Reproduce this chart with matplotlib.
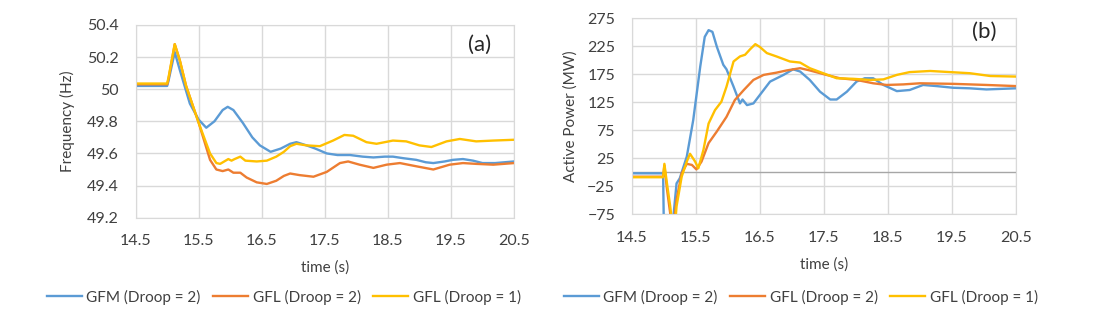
import matplotlib.pyplot as plt
from matplotlib import rcParams

rcParams['font.family'] = ['Lato', 'DejaVu Sans']
rcParams['font.size'] = 11

BLUE = '#5B9BD5'
ORANGE = '#ED7D31'
YELLOW = '#FFC000'
GRID = '#D9D9D9'

labels = ['GFM (Droop = 2)', 'GFL (Droop = 2)', 'GFL (Droop = 1)']

# (a) frequency, Hz
fa_gfm_t = [14.5, 15.0, 15.02, 15.12, 15.2, 15.36, 15.5, 15.62, 15.75, 15.88, 15.96, 16.05,
            16.2, 16.35, 16.47, 16.64, 16.8, 16.95, 17.05, 17.21, 17.35, 17.53, 17.7, 17.9,
            18.1, 18.27, 18.45, 18.58, 18.75, 18.95, 19.1, 19.22, 19.4, 19.53, 19.69, 19.85,
            20.0, 20.2, 20.5]
fa_gfm = [50.02, 50.02, 50.05, 50.23, 50.12, 49.91, 49.81, 49.76, 49.8, 49.87, 49.89, 49.87,
          49.79, 49.7, 49.65, 49.61, 49.63, 49.66, 49.67, 49.65, 49.63, 49.60, 49.59, 49.59,
          49.58, 49.575, 49.58, 49.58, 49.57, 49.56, 49.545, 49.54, 49.55, 49.56, 49.565, 49.555,
          49.54, 49.54, 49.55]

fa_gfl2_t = [14.5, 15.0, 15.02, 15.12, 15.2, 15.3, 15.5, 15.68, 15.78, 15.88, 15.97, 16.05,
             16.16, 16.26, 16.42, 16.58, 16.73, 16.85, 16.95, 17.1, 17.32, 17.53, 17.74, 17.87,
             18.05, 18.27, 18.48, 18.69, 18.95, 19.22, 19.48, 19.69, 19.9, 20.17, 20.5]
fa_gfl2 = [50.03, 50.03, 50.06, 50.28, 50.18, 50.02, 49.79, 49.56, 49.50, 49.49, 49.50, 49.48,
           49.48, 49.45, 49.42, 49.41, 49.43, 49.46, 49.475, 49.465, 49.455, 49.485, 49.54, 49.55,
           49.53, 49.51, 49.53, 49.54, 49.52, 49.50, 49.53, 49.54, 49.535, 49.53, 49.54]

fa_gfl1_t = [14.5, 15.0, 15.02, 15.12, 15.2, 15.3, 15.5, 15.68, 15.78, 15.84, 15.97, 16.02,
             16.07, 16.16, 16.24, 16.42, 16.58, 16.73, 16.85, 16.95, 17.05, 17.21, 17.42, 17.63,
             17.81, 17.95, 18.16, 18.32, 18.58, 18.79, 19.0, 19.19, 19.43, 19.64, 19.9, 20.17, 20.5]
fa_gfl1 = [50.035, 50.035, 50.07, 50.28, 50.18, 50.02, 49.79, 49.60, 49.54, 49.535, 49.565, 49.555,
           49.565, 49.58, 49.555, 49.55, 49.555, 49.58, 49.61, 49.645, 49.66, 49.65, 49.645, 49.68,
           49.715, 49.71, 49.67, 49.66, 49.68, 49.675, 49.65, 49.64, 49.675, 49.69, 49.675, 49.68, 49.685]

# (b) active power, MW
pb_gfm_t = [14.5, 14.99, 15.01, 15.1, 15.15, 15.2, 15.25, 15.36, 15.46, 15.57, 15.64, 15.7,
            15.76, 15.83, 15.93, 15.98, 16.09, 16.19, 16.23, 16.3, 16.4, 16.5, 16.66, 16.87,
            17.02, 17.13, 17.28, 17.44, 17.6, 17.7, 17.86, 18.01, 18.14, 18.27, 18.43, 18.64,
            18.84, 19.05, 19.26, 19.52, 19.78, 20.04, 20.5]
pb_gfm = [-2, -2, -170, -170, -80, -20, -11, 28, 93, 189, 242, 254,
          251, 224, 192, 184, 153, 123, 130, 120, 123, 138, 162, 174,
          184, 180, 165, 144, 130, 130, 144, 162, 168, 168, 156, 145,
          147, 156, 154, 151, 150, 148, 150]

pb_gfl2_t = [14.5, 14.99, 15.01, 15.05, 15.12, 15.16, 15.2, 15.28, 15.36, 15.44, 15.51, 15.59,
             15.7, 15.83, 15.98, 16.11, 16.25, 16.4, 16.56, 16.76, 16.92, 17.13, 17.28, 17.54,
             17.75, 18.01, 18.27, 18.48, 18.74, 19.0, 19.52, 20.04, 20.5]
pb_gfl2 = [-8, -8, 12, -30, -90, -90, -49, -2, 15, 13, 5, 19,
           52, 73, 99, 129, 147, 165, 174, 178, 182, 186, 182, 174,
           168, 165, 159, 156, 157, 159, 158, 156, 154]

pb_gfl1_t = [14.5, 14.99, 15.01, 15.05, 15.1, 15.13, 15.18, 15.2, 15.28, 15.36, 15.41, 15.49,
             15.54, 15.62, 15.7, 15.8, 15.9, 15.98, 16.09, 16.19, 16.27, 16.35, 16.43, 16.5,
             16.61, 16.76, 16.97, 17.13, 17.28, 17.49, 17.7, 17.96, 18.22, 18.43, 18.64, 18.84,
             19.16, 19.47, 19.78, 20.1, 20.5]
pb_gfl1 = [-9, -9, 15, -20, -60, -90, -90, -61, -8, 19, 33, 19,
           7, 40, 87, 111, 126, 153, 198, 207, 210, 220, 229, 224,
           213, 207, 198, 196, 186, 177, 168, 167, 165, 166, 174, 179,
           181, 179, 177, 172, 171]

xticks = [14.5, 15.5, 16.5, 17.5, 18.5, 19.5, 20.5]
fa_ticks = [49.2, 49.4, 49.6, 49.8, 50.0, 50.2, 50.4]
fa_ticklabels = ['49.2', '49.4', '49.6', '49.8', '50', '50.2', '50.4']
pb_ticks = [-75, -25, 25, 75, 125, 175, 225, 275]

fig = plt.figure(figsize=(11, 3.23), dpi=100)
ax1 = fig.add_axes([0.1233, 0.326, 0.3440, 0.597])
ax2 = fig.add_axes([0.5743, 0.337, 0.3493, 0.606])


def style(ax):
    ax.set_xlim(14.5, 20.5)
    ax.set_xticks(xticks)
    ax.set_xticklabels([f'{v:g}' for v in xticks])
    ax.grid(True, color=GRID, linewidth=1)
    ax.set_axisbelow(True)
    for s in ax.spines.values():
        s.set_color(GRID)
    ax.tick_params(axis='x', length=0, pad=12, colors='#404040', labelsize=11.5)
    ax.tick_params(axis='y', length=0, pad=12, colors='#404040', labelsize=11.5)
    ax.set_xlabel('time (s)', color='#404040', fontsize=11, labelpad=9)


lw = 1.7
ax1.plot(fa_gfm_t, fa_gfm, color=BLUE, lw=lw, label=labels[0])
ax1.plot(fa_gfl2_t, fa_gfl2, color=ORANGE, lw=lw, label=labels[1])
ax1.plot(fa_gfl1_t, fa_gfl1, color=YELLOW, lw=lw, label=labels[2])
style(ax1)
ax1.set_ylim(49.2, 50.4)
ax1.set_yticks(fa_ticks)
ax1.set_yticklabels(fa_ticklabels)
ax1.set_ylabel('Frequency (Hz)', color='#404040', fontsize=11, labelpad=9)
ax1.text(0.94, 0.895, '(a)', transform=ax1.transAxes, fontsize=16, ha='right', va='center',
         color='#262626')

ax2.plot(pb_gfm_t, pb_gfm, color=BLUE, lw=lw, label=labels[0])
ax2.plot(pb_gfl2_t, pb_gfl2, color=ORANGE, lw=lw, label=labels[1])
ax2.plot(pb_gfl1_t, pb_gfl1, color=YELLOW, lw=lw, label=labels[2])
style(ax2)
ax2.set_ylim(-75, 275)
ax2.set_yticks(pb_ticks)
ax2.axhline(0, color='#A6A6A6', lw=1, zorder=1.5)
ax2.set_ylabel('Active Power (MW)', color='#404040', fontsize=11, labelpad=7)
ax2.text(0.95, 0.93, '(b)', transform=ax2.transAxes, fontsize=16, ha='right', va='center',
         color='#262626')

for ax, cx in ((ax1, 0.258), (ax2, 0.728)):
    h, l = ax.get_legend_handles_labels()
    fig.legend(h, l, loc='center', bbox_to_anchor=(cx, 0.08), ncol=3, frameon=False,
               handlelength=2.3, handletextpad=0.3, columnspacing=0.8, fontsize=11,
               labelcolor='#404040')

fig.savefig('out.png', dpi=100)
